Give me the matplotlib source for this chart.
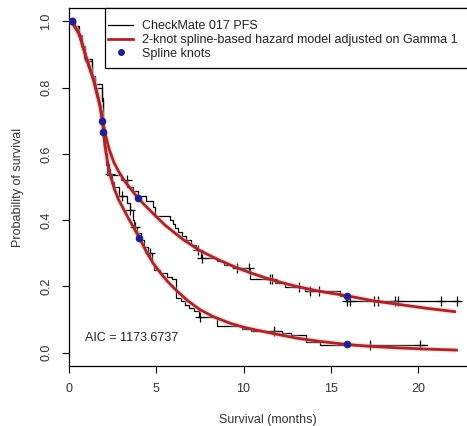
import numpy as np
import matplotlib
matplotlib.use("Agg")
import matplotlib.pyplot as plt
from matplotlib.patches import Rectangle
from matplotlib.lines import Line2D

plt.rcParams['font.family'] = ['Liberation Sans', 'DejaVu Sans']

# Kaplan-Meier steps, upper arm
kmA_t = [0.00, 0.35, 0.55, 0.75, 0.86, 1.30, 1.50, 1.87, 1.93, 2.00, 2.10, 2.20,
         3.00, 3.35, 3.65, 3.95, 4.40, 4.80, 4.95, 5.80, 5.95, 6.10, 6.25, 6.45,
         6.70, 7.00, 7.30, 7.55, 8.50, 8.90, 9.40, 10.37, 11.80, 12.40, 13.50,
         15.50, 15.85, 22.40]
kmA_s = [1.000, 0.985, 0.960, 0.925, 0.885, 0.835, 0.810, 0.770, 0.700, 0.620,
         0.565, 0.535, 0.520, 0.500, 0.487, 0.473, 0.458, 0.440, 0.412, 0.400,
         0.388, 0.376, 0.364, 0.351, 0.340, 0.326, 0.311, 0.287, 0.276, 0.266,
         0.256, 0.222, 0.210, 0.198, 0.185, 0.170, 0.155, 0.155]
censA_t = [3.30, 7.41, 7.60, 9.60, 10.30, 11.50, 11.65, 13.20, 13.80, 14.30,
           15.90, 16.10, 17.50, 17.70, 18.70, 18.85, 21.30, 22.20]

# Kaplan-Meier steps, lower arm
kmB_t = [0.00, 0.30, 0.50, 0.70, 0.90, 1.30, 1.50, 1.87, 1.95, 2.05, 2.15, 2.30,
         2.45, 2.60, 2.85, 3.30, 3.50, 3.65, 3.75, 3.90, 4.10, 4.30, 4.55, 4.75,
         4.85, 5.20, 5.60, 5.90, 6.15, 6.40, 6.65, 6.90, 7.15, 7.45, 8.45, 9.90,
         10.40, 12.20, 12.70, 13.60, 14.40, 20.50]
kmB_s = [1.000, 0.985, 0.955, 0.925, 0.880, 0.830, 0.800, 0.760, 0.660, 0.600,
         0.570, 0.540, 0.515, 0.500, 0.473, 0.452, 0.432, 0.400, 0.380, 0.362,
         0.340, 0.320, 0.301, 0.270, 0.250, 0.240, 0.230, 0.222, 0.165, 0.155,
         0.145, 0.135, 0.125, 0.109, 0.081, 0.073, 0.067, 0.060, 0.053, 0.033,
         0.023, 0.023]
censB_t = [2.35, 3.02, 3.50, 3.78, 4.64, 7.50, 11.76, 17.25, 20.10]

# fitted spline-based hazard model curves
fitA_t = [0.15, 0.6, 1.0, 1.4, 1.78, 1.91, 2.1, 2.3, 2.55, 2.85, 3.2, 3.6, 3.97,
          4.4, 4.8, 5.5, 6.5, 7.5, 8.5, 9.4, 10.4, 11.3, 12.3, 13.2, 14.4, 15.9,
          17.5, 19.0, 20.5, 22.1]
fitA_s = [1.0, 0.96, 0.888, 0.825, 0.745, 0.70, 0.655, 0.614, 0.577, 0.546, 0.517,
          0.49, 0.466, 0.442, 0.421, 0.385, 0.343, 0.308, 0.282, 0.261, 0.241,
          0.225, 0.21, 0.198, 0.185, 0.172, 0.156, 0.145, 0.134, 0.124]
fitB_t = [0.15, 0.6, 1.0, 1.4, 1.78, 1.91, 1.97, 2.06, 2.2, 2.35, 2.6, 2.83, 3.1,
          3.4, 3.7, 4.03, 4.4, 4.83, 5.3, 5.7, 6.17, 6.8, 7.5, 8.3, 9.23, 10.0,
          10.76, 11.7, 13.05, 14.4, 15.9, 17.3, 18.78, 20.5, 22.2]
fitB_s = [1.0, 0.96, 0.888, 0.825, 0.745, 0.705, 0.667, 0.625, 0.578, 0.538,
          0.494, 0.463, 0.436, 0.406, 0.378, 0.347, 0.308, 0.269, 0.237, 0.212,
          0.187, 0.157, 0.13, 0.108, 0.089, 0.077, 0.068, 0.058, 0.044, 0.034,
          0.025, 0.019, 0.015, 0.011, 0.008]

knotA_t = [0.15, 1.91, 3.97, 15.9]
knotA_s = [1.0, 0.698, 0.466, 0.172]
knotB_t = [0.15, 1.97, 4.03, 15.9]
knotB_s = [1.0, 0.667, 0.347, 0.025]

labels = ["CheckMate 017 PFS",
          "2-knot spline-based hazard model adjusted on Gamma 1",
          "Spline knots"]
aic_text = "AIC = 1173.6737"

RED = "#a8262a"
HALO = "#f3b3b3"
BLUE = "#1f1f8f"

fig = plt.figure(figsize=(4.67, 4.26), dpi=100)
ax = fig.add_axes([69 / 467, 1 - 366 / 426, 1 - 69 / 467, (366 - 8) / 426])


def step_at(t_steps, s_steps, t):
    idx = np.searchsorted(t_steps, t, side='right') - 1
    return np.asarray(s_steps)[idx]


for kt, ks, ct in [(kmA_t, kmA_s, censA_t), (kmB_t, kmB_s, censB_t)]:
    ax.step(kt, ks, where='post', color='black', lw=0.9, zorder=2)
    ax.plot(ct, step_at(kt, ks, ct), ls='none', marker='+', ms=7, mew=0.9,
            color='black', zorder=2)

for ft, fs in [(fitA_t, fitA_s), (fitB_t, fitB_s)]:
    ax.plot(ft, fs, color=HALO, lw=4, alpha=0.4, solid_capstyle='butt', zorder=3)
    ax.plot(ft, fs, color=RED, lw=2.0, zorder=4)

ax.plot(knotA_t + knotB_t, knotA_s + knotB_s, ls='none', marker='o', ms=4.5,
        color=BLUE, zorder=5)

ax.text(0.9, 0.045, aic_text, fontsize=9, ha='left', va='center', color='#222222')

ax.set_xlim(0, 22.8)
ax.set_ylim(-0.04, 1.04)
ax.set_xticks([0, 5, 10, 15, 20])
ax.set_yticks([0.0, 0.2, 0.4, 0.6, 0.8, 1.0])
ax.set_yticklabels(["0.0", "0.2", "0.4", "0.6", "0.8", "1.0"], rotation=90,
                   va='center')
ax.tick_params(length=5, width=0.8, labelsize=9, pad=7, colors='black',
               labelcolor='#333333')
for side in ['left', 'bottom', 'top']:
    ax.spines[side].set_linewidth(0.9)
ax.spines['right'].set_visible(False)

ax.set_xlabel("Survival (months)", fontsize=9, labelpad=14, color='#333333')
ax.set_ylabel("Probability of survival", fontsize=9, labelpad=12, color='#333333')

# legend box runs off the right edge
lx0 = (105 - 69) / 398
ly0 = (366 - 67.7) / 358
ax.add_patch(Rectangle((lx0, ly0), 1.2, 1.0 - ly0, transform=ax.transAxes,
                       fill=True, facecolor='white', edgecolor='black', lw=0.9,
                       clip_on=False, zorder=6))
handles = [Line2D([], [], color='black', lw=0.9),
           Line2D([], [], color=RED, lw=2.0),
           Line2D([], [], ls='none', marker='o', ms=4, color=BLUE)]
leg = ax.legend(handles, labels, loc='upper left',
                bbox_to_anchor=(lx0 + 0.5 / 398, 1.0 - 9.5 / 358),
                frameon=False, fontsize=9, handlelength=2.0, handletextpad=0.72,
                labelspacing=0.15, borderpad=0.2, borderaxespad=0.0)
leg.set_zorder(7)
for t in leg.get_texts():
    t.set_color('#222222')

fig.savefig("out.png", dpi=100)
